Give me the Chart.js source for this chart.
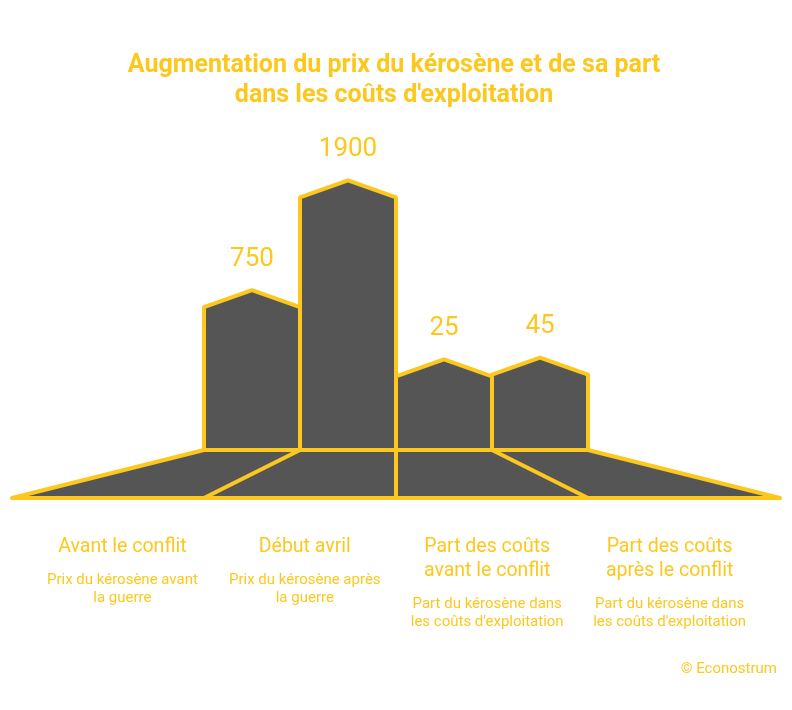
<!DOCTYPE html>
<html lang="fr">
<head>
<meta charset="utf-8">
<title>Augmentation du prix du kérosène</title>
<script src="https://cdn.jsdelivr.net/npm/chart.js@4.4.1/dist/chart.umd.min.js"></script>
<style>
  html, body { margin: 0; padding: 0; background: #fff; }
  canvas { display: block; }
</style>
</head>
<body>
<canvas id="keroseneChart" width="792" height="710"></canvas>
<script>
const titleLines = ["Augmentation du prix du kérosène et de sa part", "dans les coûts d'exploitation"];
const categoryLines = [
  ["Avant le conflit"],
  ["Début avril"],
  ["Part des coûts", "avant le conflit"],
  ["Part des coûts", "après le conflit"]
];
const subtitleLines = [
  ["Prix du kérosène avant", "la guerre"],
  ["Prix du kérosène après", "la guerre"],
  ["Part du kérosène dans", "les coûts d'exploitation"],
  ["Part du kérosène dans", "les coûts d'exploitation"]
];
const values = [750, 1900, 25, 45];
const yAxisMin = -745;
const yAxisMax = 2500;
const creditText = "© Econostrum";

const YELLOW = "#fcc81e";
const GREY = "#555555";
const FONT = "Roboto, 'Noto Sans', sans-serif";
const PEAK = 17;        // roof height above bar top
const FLOOR_DEPTH = 48; // depth of the floor in px
const FLOOR_SPREAD = 2; // how much wider the floor front edge is
const LABEL_SPREAD = 1.9;

const houseBarsPlugin = {
  id: "houseBars",
  afterDatasetsDraw(chart) {
    const ctx = chart.ctx;
    const bars = chart.getDatasetMeta(0).data;
    const area = chart.chartArea;
    const mid = (area.left + area.right) / 2;
    const base = bars[0].base;
    const floorY = base + FLOOR_DEPTH;
    const spread = (x) => mid + (x - mid) * FLOOR_SPREAD;
    const edges = [bars[0].x - bars[0].width / 2].concat(bars.map((b) => b.x + b.width / 2));
    const first = edges[0];
    const last = edges[edges.length - 1];

    ctx.save();
    ctx.lineWidth = 4;
    ctx.lineJoin = "round";
    ctx.lineCap = "round";
    ctx.strokeStyle = YELLOW;
    ctx.fillStyle = GREY;

    // floor
    ctx.beginPath();
    ctx.moveTo(first, base);
    ctx.lineTo(last, base);
    ctx.lineTo(spread(last), floorY);
    ctx.lineTo(spread(first), floorY);
    ctx.closePath();
    ctx.fill();
    ctx.stroke();
    for (let i = 1; i < edges.length - 1; i++) {
      ctx.beginPath();
      ctx.moveTo(edges[i], base);
      ctx.lineTo(spread(edges[i]), floorY);
      ctx.stroke();
    }

    // house shaped bars
    bars.forEach((bar) => {
      const left = bar.x - bar.width / 2;
      const right = bar.x + bar.width / 2;
      ctx.beginPath();
      ctx.moveTo(left, bar.base);
      ctx.lineTo(left, bar.y);
      ctx.lineTo(bar.x, bar.y - PEAK);
      ctx.lineTo(right, bar.y);
      ctx.lineTo(right, bar.base);
      ctx.closePath();
      ctx.fill();
      ctx.stroke();
    });

    ctx.fillStyle = YELLOW;
    ctx.textAlign = "center";
    ctx.textBaseline = "middle";

    // title (drawn here so it is not squeezed by the side padding)
    ctx.font = "bold 25px " + FONT;
    titleLines.forEach((line, i) => {
      ctx.fillText(line, chart.width / 2 - 2, 66 + i * 30);
    });

    // values above the roofs
    ctx.font = "26px " + FONT;
    bars.forEach((bar, i) => {
      ctx.fillText(String(values[i]), bar.x, bar.y - PEAK - 31);
    });

    // category labels under the floor
    bars.forEach((bar, i) => {
      const x = mid + (bar.x - mid) * LABEL_SPREAD;
      let y = 547;
      ctx.font = "19.5px " + FONT;
      categoryLines[i].forEach((line, j) => {
        if (j > 0) y += 24;
        ctx.fillText(line, x, y);
      });
      y += 33;
      ctx.font = "15px " + FONT;
      subtitleLines[i].forEach((line, j) => {
        if (j > 0) y += 18;
        ctx.fillText(line, x, y);
      });
    });

    // credit
    ctx.textAlign = "right";
    ctx.font = "15px " + FONT;
    ctx.fillText(creditText, 777, 669);
    ctx.restore();
  }
};

const chart = new Chart(document.getElementById("keroseneChart").getContext("2d"), {
  type: "bar",
  data: {
    labels: categoryLines.map((l) => l.join(" ")),
    datasets: [
      {
        data: values,
        base: yAxisMin,
        backgroundColor: "rgba(0,0,0,0)",
        borderWidth: 0,
        barPercentage: 1,
        categoryPercentage: 1
      }
    ]
  },
  options: {
    responsive: false,
    animation: false,
    layout: { padding: { top: 140, bottom: 260, left: 204, right: 204 } },
    scales: {
      x: { display: false },
      y: { display: false, min: yAxisMin, max: yAxisMax }
    },
    plugins: {
      legend: { display: false },
      tooltip: { enabled: false },
      title: { display: false }
    }
  },
  plugins: [houseBarsPlugin]
});
</script>
</body>
</html>
